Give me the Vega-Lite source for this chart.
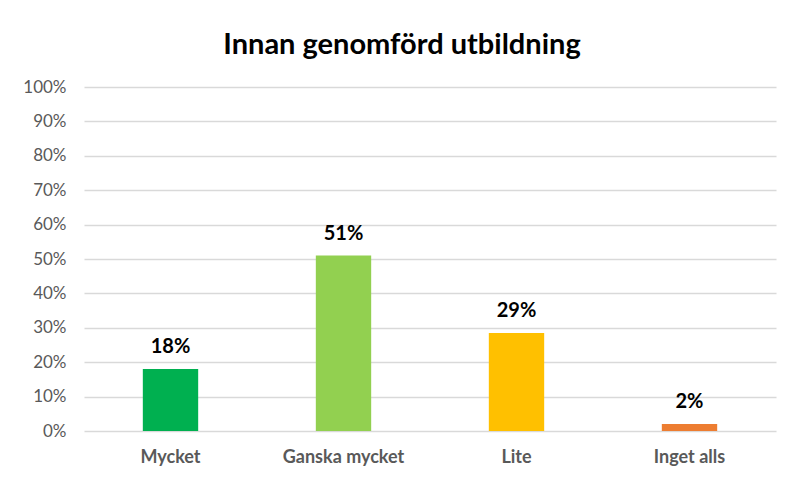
{
  "$schema": "https://vega.github.io/schema/vega-lite/v6.json",
  "autosize": {"type": "none"},
  "padding": {"left": 84, "top": 87, "right": 13, "bottom": 48},
  "width": 692,
  "height": 344,
  "background": "white",
  "title": {
    "text": "Innan genomförd utbildning",
    "font": "Lato",
    "fontSize": 29,
    "fontWeight": "bold",
    "color": "#000000",
    "anchor": "middle",
    "dx": -28,
    "offset": 18
  },
  "data": {
    "values": [
      {"kategori": "Mycket", "andel": 0.18, "etikett": "18%"},
      {"kategori": "Ganska mycket", "andel": 0.51, "etikett": "51%"},
      {"kategori": "Lite", "andel": 0.285, "etikett": "29%"},
      {"kategori": "Inget alls", "andel": 0.02, "etikett": "2%"}
    ]
  },
  "encoding": {
    "x": {
      "field": "kategori",
      "type": "nominal",
      "sort": null,
      "scale": {"paddingInner": 0.68, "paddingOuter": 0.34},
      "axis": {
        "title": null,
        "labelAngle": 0,
        "labelFont": "Lato",
        "labelFontSize": 18,
        "labelFontWeight": "bold",
        "labelColor": "#595959",
        "labelPadding": 17,
        "domain": false,
        "ticks": false
      }
    },
    "y": {
      "field": "andel",
      "type": "quantitative",
      "scale": {"domain": [0, 1], "nice": false},
      "axis": {
        "title": null,
        "format": ".0%",
        "values": [0, 0.1, 0.2, 0.3, 0.4, 0.5, 0.6, 0.7, 0.8, 0.9, 1],
        "labelFont": "Lato",
        "labelFontSize": 17,
        "labelColor": "#595959",
        "labelPadding": 18,
        "domain": false,
        "ticks": false,
        "grid": true,
        "gridColor": "#d9d9d9",
        "gridWidth": 1.5
      }
    }
  },
  "layer": [
    {
      "mark": {"type": "bar"},
      "encoding": {
        "color": {
          "field": "kategori",
          "type": "nominal",
          "legend": null,
          "scale": {
            "domain": ["Mycket", "Ganska mycket", "Lite", "Inget alls"],
            "range": ["#00B050", "#92D050", "#FFC000", "#ED7D31"]
          }
        }
      }
    },
    {
      "mark": {
        "type": "text",
        "baseline": "bottom",
        "dy": -12,
        "font": "Lato",
        "fontSize": 20,
        "fontWeight": "bold",
        "color": "#000000"
      },
      "encoding": {"text": {"field": "etikett"}}
    }
  ],
  "config": {"view": {"stroke": null}}
}
